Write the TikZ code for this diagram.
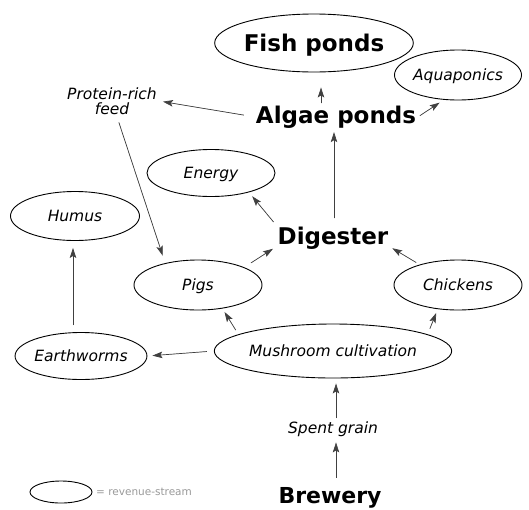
\documentclass[tikz,border=0pt]{standalone}
\usepackage{fontspec}
\setmainfont{DejaVu Sans}
\usetikzlibrary{arrows.meta,shapes.geometric}

\begin{document}
\begin{tikzpicture}[
  x=1pt, y=-1pt,
  >={Stealth[length=10pt,width=6.5pt,inset=2pt]},
  stream/.style={draw, ellipse, line width=0.9pt, inner sep=0pt,
                 minimum width=128pt, minimum height=49pt, text depth=0pt,
                 font=\fontsize{15.5}{15}\selectfont\itshape},
  hub/.style={inner sep=2pt, anchor=base,
              font=\fontsize{23}{26}\selectfont\bfseries},
  item/.style={inner sep=2pt, align=center,
               font=\fontsize{15.5}{15}\selectfont\itshape},
  flow/.style={->, draw=black!75, fill=black!75, line width=0.7pt},
]
\useasboundingbox (0,0) rectangle (529,509);

\node[stream, minimum width=180pt, minimum height=58pt,
      font=\fontsize{23}{26}\selectfont\bfseries] (fish)   at (314,43)  {Fish ponds};
\node[stream, minimum width=126pt, minimum height=50pt] (aqua) at (458,75) {Aquaponics};
\node[item]                        (feed)     at (112,101) {Protein-rich\\feed};
\node[hub]                         (algae)    at (336,123) {Algae ponds};
\node[stream, minimum height=47pt] (energy)   at (211,173) {Energy};
\node[stream, minimum width=129pt] (humus)    at (75,216)  {Humus};
\node[hub]                         (digester) at (333,244) {Digester};
\node[stream, minimum height=50pt] (pigs)     at (198,285) {Pigs};
\node[stream, minimum height=50pt] (chickens) at (458,285) {Chickens};
\node[stream, minimum width=214pt, minimum height=54pt]
                                   (mushroom) at (333,351) {Mushroom cultivation};
\node[stream, minimum width=129pt, minimum height=47pt]
                                   (worms)    at (81,356)  {Earthworms};
\node[item, anchor=base]           (grain)    at (333,433) {Spent grain};
\node[hub, font=\fontsize{22}{26}\selectfont\bfseries]
                                   (brewery)  at (330,503) {Brewery};

% legend
\node[stream, minimum width=62pt, minimum height=22pt] (key) at (61,492) {};
\node[anchor=west, inner sep=0pt, text=black!40,
      font=\fontsize{10.5}{11}\selectfont] (keytext) at (96,492) {= revenue-stream};

\draw[flow, shorten <=0pt, shorten >=15pt] ([xshift=-15pt]algae.north) -- ([xshift=7pt]fish.south);
\draw[flow, shorten <=2pt, shorten >=4pt]  (algae.east) -- ([xshift=-15pt]aqua.south);
\draw[flow, shorten <=10pt, shorten >=4pt] (algae.west) -- (feed.east);
\draw[flow, shorten <=6pt, shorten >=4pt]  ([xshift=5pt]feed.south) -- ([xshift=-34pt]pigs.north);
\draw[flow, shorten <=6pt, shorten >=2pt]  ([xshift=1pt]digester.north) -- ([xshift=-2pt]algae.south);
\draw[flow, shorten <=3pt, shorten >=5pt]  (digester.north west) -- (energy.-27);
\draw[flow, shorten <=8pt, shorten >=3pt]  (pigs.21) -- ([yshift=4pt]digester.south west);
\draw[flow, shorten <=4pt, shorten >=2pt]  (chickens.152) -- ([yshift=4pt]digester.south east);
\draw[flow, shorten <=5pt, shorten >=4pt]  (mushroom.170) -- (pigs.-44);
\draw[flow, shorten <=6pt, shorten >=4pt]  (mushroom.10) -- (chickens.-130);
\draw[flow, shorten <=7pt, shorten >=5pt]  (mushroom.west) -- (worms.east);
\draw[flow, shorten <=7pt, shorten >=7pt]  ([xshift=-8pt]worms.north) -- ([xshift=-2pt]humus.south);
\draw[flow, shorten <=1pt, shorten >=5pt]  ([xshift=3pt]grain.north) -- ([xshift=3pt]mushroom.south);
\draw[flow, shorten <=7pt, shorten >=4pt]  ([xshift=6pt]brewery.north) -- ([xshift=3pt]grain.south);
\end{tikzpicture}
\end{document}
